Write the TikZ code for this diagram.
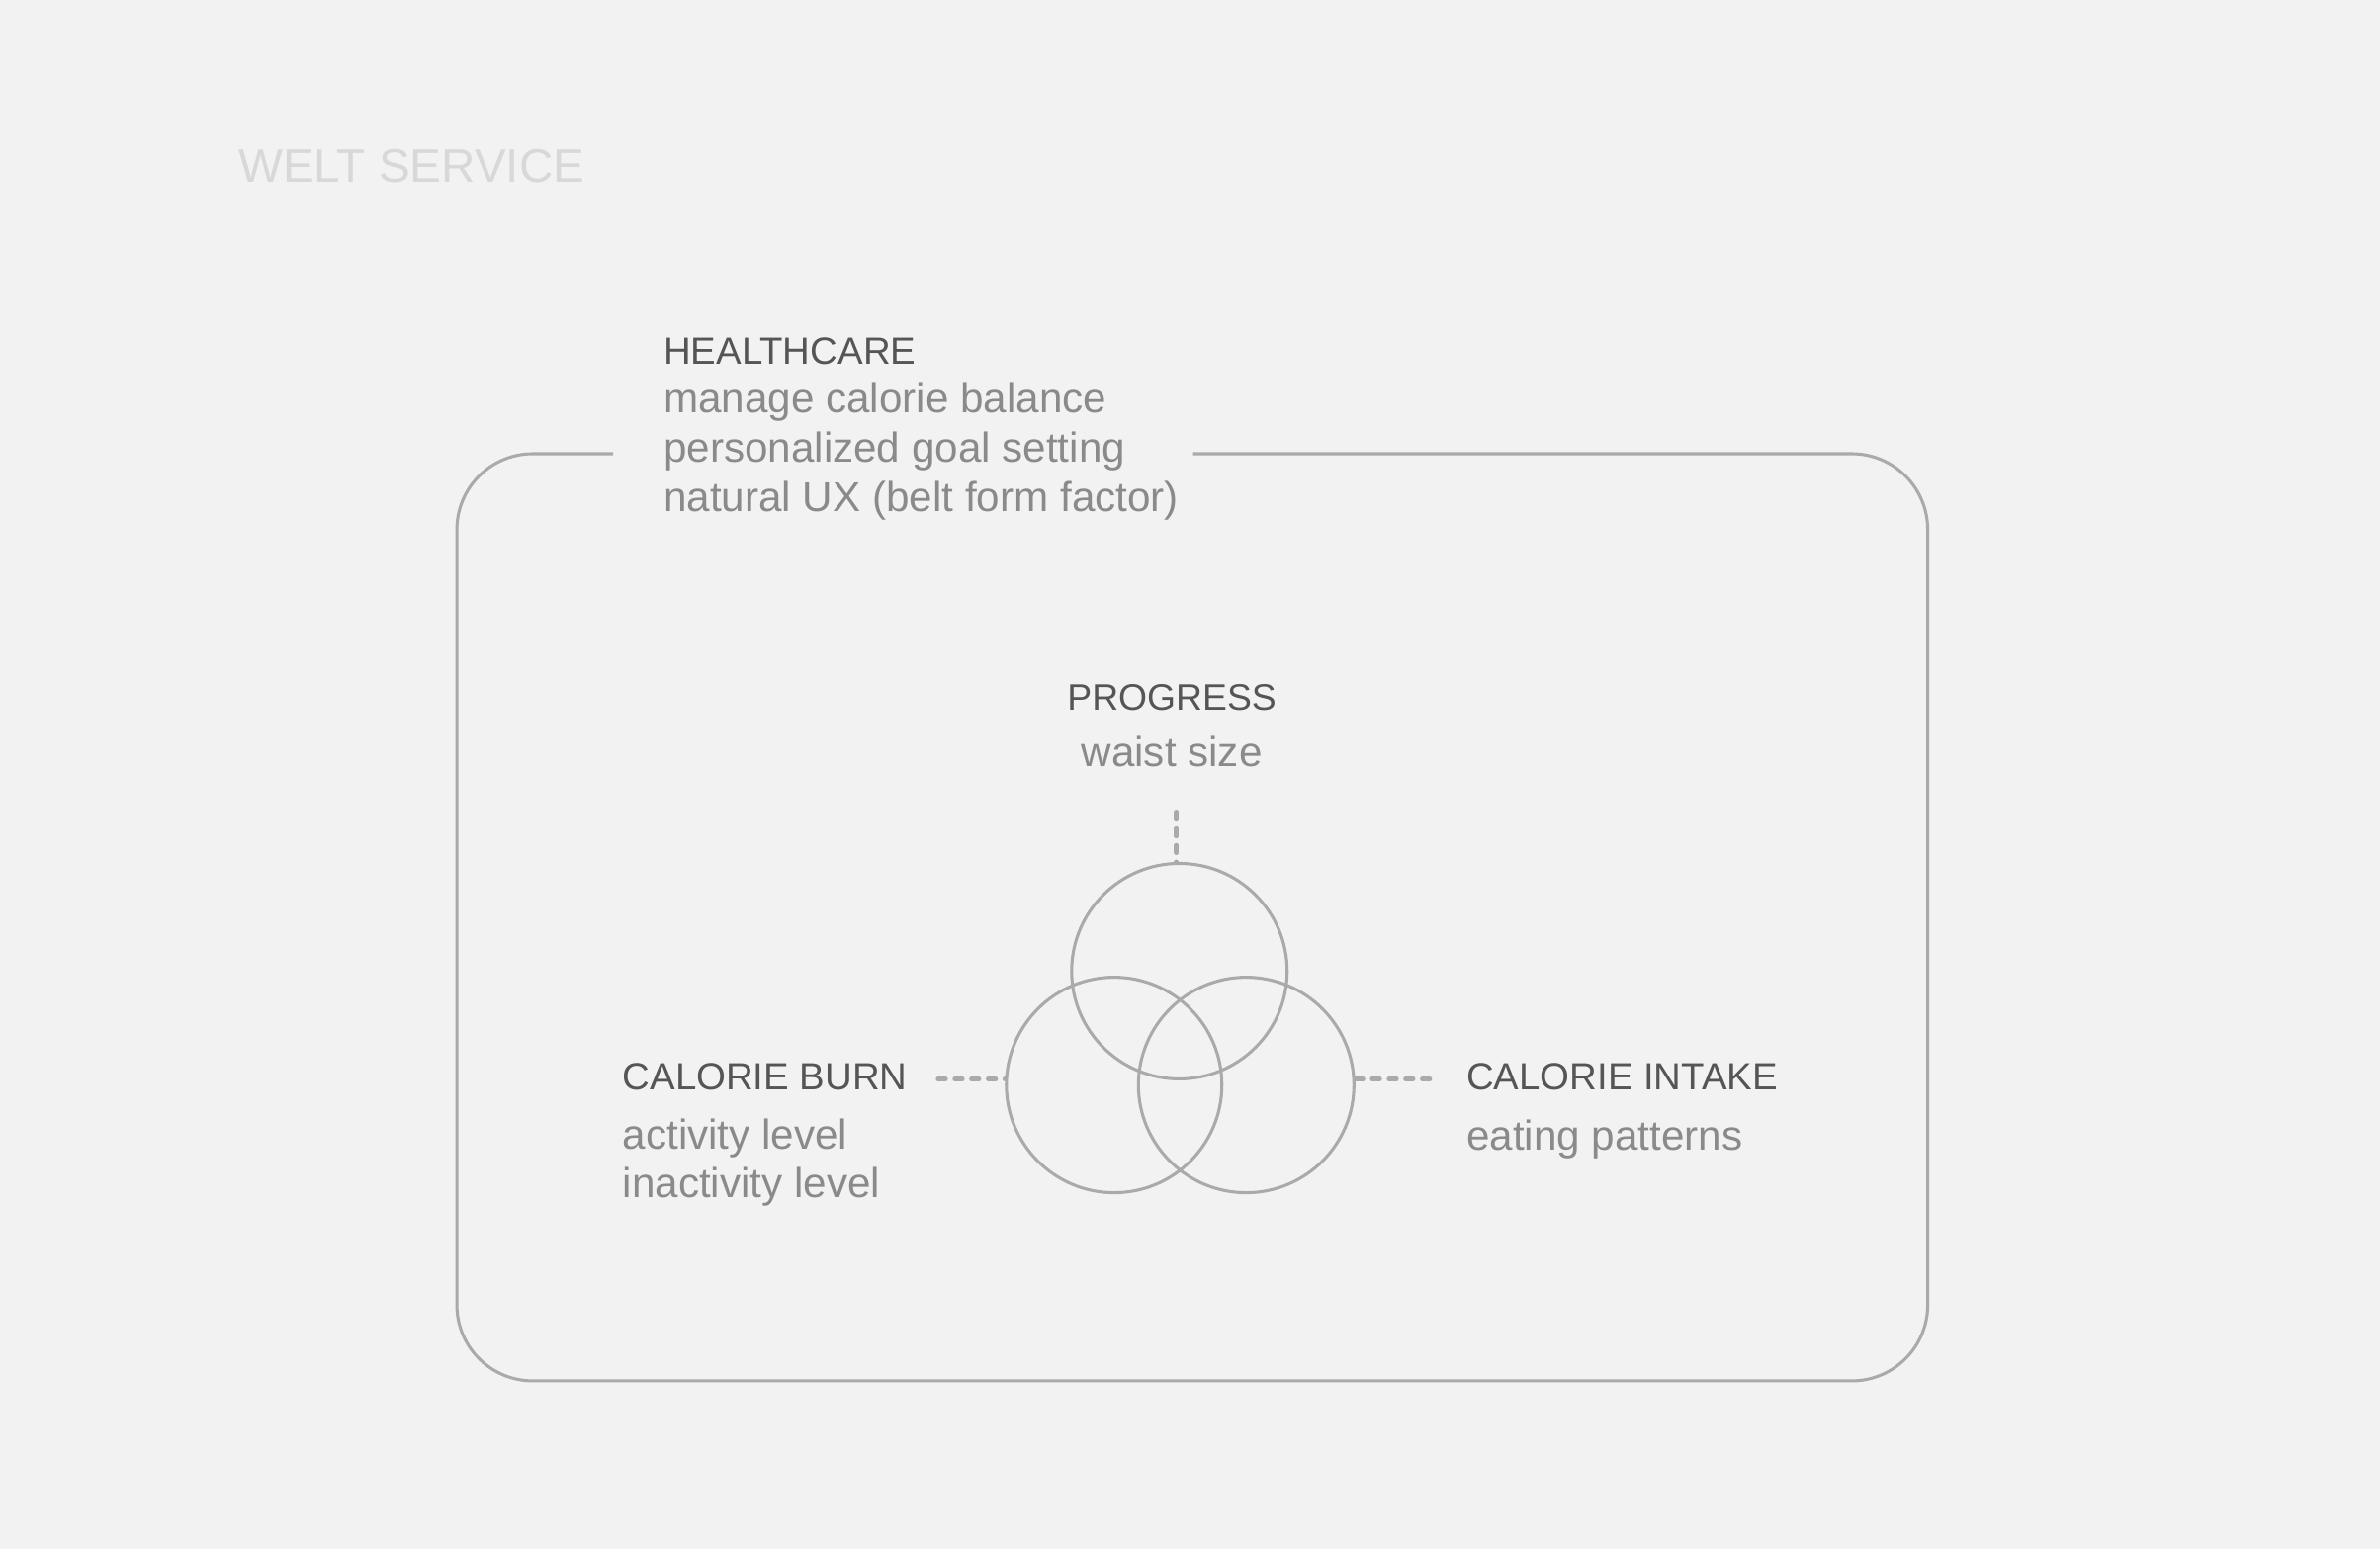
\documentclass[tikz,border=0pt]{standalone}
\usepackage{fontspec}
\setmainfont{Liberation Sans}
\usetikzlibrary{positioning}
\definecolor{bggray}{HTML}{F2F2F2}
\definecolor{titlegray}{HTML}{D8D8D8}
\definecolor{headgray}{HTML}{555555}
\definecolor{subgray}{HTML}{8A8A8A}
\definecolor{linegray}{HTML}{AAAAAA}

\begin{document}
\begin{tikzpicture}[x=1pt,y=-1pt,
  every node/.style={inner sep=0pt},
  head/.style={text=headgray, font=\fontsize{25}{32}\selectfont},
  sub/.style={text=subgray, font=\fontsize{27.5}{32.5}\selectfont, align=left},
  ring/.style={draw=linegray, line width=2pt, circle, minimum size=142pt},
  link/.style={draw=linegray, line width=3pt, dash pattern=on 5pt off 6pt, line cap=round},
  frame/.style={draw=linegray, line width=2pt, rounded corners=50pt}]
\fill[bggray] (0,0) rectangle (1568,1021);
\node[text=titlegray, font=\fontsize{31}{36}\selectfont, anchor=base west] (title) at (157,120) {WELT SERVICE};
% outer frame with the gap for the label
\draw[frame] (786,299) -| (1270,910) -| (301,299) -- (404,299);
\node[head, anchor=base west] (care) at (437,240) {HEALTHCARE};
\node[sub, anchor=base west] (caresub) at (437,337) {manage calorie balance\\personalized goal setting\\natural UX (belt form factor)};
% venn circles
\node[ring] (top) at (777,640) {};
\node[ring] (left) at (734,715) {};
\node[ring] (right) at (821,715) {};
\node[head, font=\fontsize{24.3}{32}\selectfont, anchor=base] (prog) at (772,468) {PROGRESS};
\node[sub, anchor=base] (progsub) at (772,505) {waist size};
\node[head, anchor=base west] (burn) at (410,718) {CALORIE BURN};
\node[sub, font=\fontsize{27.5}{32}\selectfont, anchor=base west] (burnsub) at (410,789) {activity level\\inactivity level};
\node[head, anchor=base west] (intake) at (966,718) {CALORIE INTAKE};
\node[sub, anchor=base west] (intakesub) at (966,758) {eating patterns};
\coordinate (progend) at (775,535);
\coordinate (burnend) at (618,711);
\coordinate (intakeend) at (942,711);
\draw[link] (progend) -- (progend |- top.north);
\draw[link] (burnend) -- (burnend -| left.west);
\draw[link] (right.east |- intakeend) -- (intakeend);
\end{tikzpicture}
\end{document}
